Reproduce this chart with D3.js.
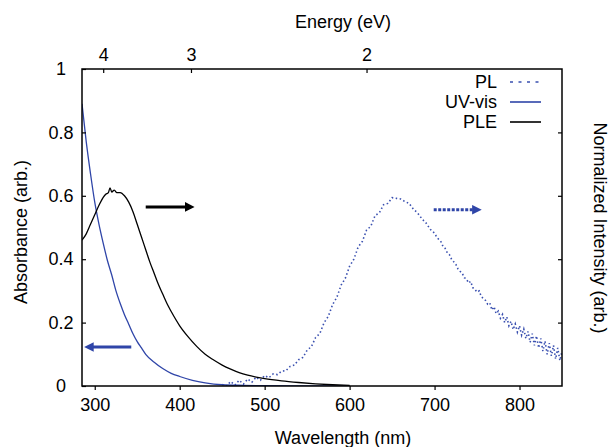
<!DOCTYPE html>
<html><head><meta charset="utf-8">
<script src="https://cdn.jsdelivr.net/npm/d3@7"></script>
<style>
body{margin:0;background:#fff;}
text{font-family:"Liberation Sans",Arial,Helvetica,sans-serif;fill:#000;}
</style></head>
<body><svg id="chart" width="609" height="447"></svg>
<script>
// ---- data ----
const xTicks = [300, 400, 500, 600, 700, 800];
const yTicks = [0, 0.2, 0.4, 0.6, 0.8, 1];
const yTickLabels = ["0", "0.2", "0.4", "0.6", "0.8", "1"];
const energyTicks = [4, 3, 2];

const uvWave = [285, 290, 295, 300, 305, 310, 315, 320, 325, 330, 335, 340, 345, 350, 355, 360, 370, 380, 390, 400, 415, 430, 450, 475, 500, 550, 600];
const uvVal  = [0.89, 0.77, 0.67, 0.58, 0.51, 0.45, 0.395, 0.35, 0.30, 0.26, 0.225, 0.195, 0.165, 0.14, 0.12, 0.10, 0.075, 0.055, 0.04, 0.03, 0.018, 0.01, 0.004, 0.002, 0.001, 0, 0];

const pleWave = [285, 290, 295, 300, 305, 310, 313, 316, 318, 320, 323, 326, 330, 335, 340, 345, 350, 355, 360, 365, 370, 375, 380, 385, 390, 400, 410, 420, 430, 440, 450, 460, 470, 480, 490, 500, 520, 540, 560, 580, 600];
const pleVal  = [0.46, 0.48, 0.51, 0.54, 0.57, 0.595, 0.605, 0.61, 0.625, 0.612, 0.618, 0.61, 0.61, 0.6, 0.58, 0.55, 0.51, 0.47, 0.43, 0.39, 0.355, 0.32, 0.29, 0.26, 0.235, 0.19, 0.155, 0.125, 0.1, 0.082, 0.066, 0.053, 0.042, 0.034, 0.028, 0.023, 0.016, 0.011, 0.007, 0.004, 0.002];

const plWave = [450, 455, 460, 465, 470, 475, 480, 485, 490, 495, 500, 505, 510, 515, 520, 525, 530, 535, 540, 545, 550, 555, 560, 565, 570, 575, 580, 585, 590, 595, 600, 605, 610, 615, 620, 625, 630, 635, 640, 645, 650, 655, 660, 665, 670, 675, 680, 685, 690, 695,
  700, 702.5, 705, 707.5, 710, 712.5, 715, 717.5, 720, 722.5, 725, 727.5, 730, 732.5, 735, 737.5, 740, 742.5, 745, 747.5, 750, 752.5, 755, 757.5, 760, 762.5, 765, 767.5, 770, 772.5, 775, 777.5, 780, 782.5, 785, 787.5, 790, 792.5, 795, 797.5, 800, 802.5, 805, 807.5, 810, 812.5, 815, 817.5, 820, 822.5, 825, 827.5, 830, 832.5, 835, 837.5, 840, 842.5, 845, 847.5, 850];
const plVal  = [0.005, 0.0, 0.014, 0.003, 0.018, 0.006, 0.022, 0.012, 0.028, 0.018, 0.033, 0.026, 0.038, 0.036, 0.047, 0.048, 0.062, 0.066, 0.083, 0.09, 0.113, 0.124, 0.153, 0.166, 0.2, 0.22, 0.257, 0.28, 0.318, 0.34, 0.378, 0.4, 0.438, 0.456, 0.492, 0.504, 0.538, 0.546, 0.572, 0.576, 0.594, 0.592, 0.59, 0.582, 0.576, 0.558, 0.546, 0.528, 0.514, 0.494,
  0.482, 0.47, 0.462, 0.455, 0.44, 0.434, 0.42, 0.414, 0.4, 0.392, 0.384, 0.37, 0.362, 0.356, 0.342, 0.338, 0.325, 0.33, 0.31, 0.305, 0.296, 0.3, 0.282, 0.276, 0.27, 0.258, 0.262, 0.24, 0.25, 0.228, 0.236, 0.214, 0.226, 0.2, 0.218, 0.19, 0.204, 0.178, 0.196, 0.17, 0.19, 0.16, 0.18, 0.15, 0.172, 0.138, 0.165, 0.128, 0.158, 0.12, 0.15, 0.11, 0.142, 0.1, 0.135, 0.095, 0.128, 0.085, 0.12, 0.08, 0.11];

const legendLabels = ["PL", "UV-vis", "PLE"];
const colors = {pl: "#3a50b0", uv: "#2f45a8", ple: "#000000"};

// arrows: [x1, x2, y] in data units
const arrowPLE = [360, 413, 0.565];
const arrowUV  = [343, 292, 0.123];
const arrowPL  = [699, 751, 0.556];

// ---- drawing ----
const svg = d3.select("#chart");
const L = 82, R = 562, T = 69, B = 386;
const x = d3.scaleLinear().domain([285, 850]).range([L, R]);
const y = d3.scaleLinear().domain([0, 1]).range([B, T]);

const defs = svg.append("defs");
function marker(id, color) {
  defs.append("marker").attr("id", id).attr("viewBox", "0 0 10 10")
    .attr("refX", 6).attr("refY", 5).attr("markerWidth", 3.2).attr("markerHeight", 3.2)
    .attr("orient", "auto").attr("markerUnits", "strokeWidth")
    .append("path").attr("d", "M0,0 L10,5 L0,10 Z").attr("fill", color);
}
marker("hBlack", "#000");
marker("hBlue", colors.uv);

const clip = defs.append("clipPath").attr("id", "clip");
clip.append("rect").attr("x", L).attr("y", T).attr("width", R - L).attr("height", B - T);

const g = svg.append("g").attr("clip-path", "url(#clip)");
const line = d3.line().x(d => x(d[0])).y(d => y(d[1]));

g.append("path").datum(plWave.map((w, i) => [w, plVal[i]]))
  .attr("d", line).attr("fill", "none").attr("stroke", colors.pl)
  .attr("stroke-width", 1.6).attr("stroke-dasharray", "1.5,2.5");
g.append("path").datum(uvWave.map((w, i) => [w, uvVal[i]]))
  .attr("d", d3.line().x(d => x(d[0])).y(d => y(d[1])).curve(d3.curveMonotoneX))
  .attr("fill", "none").attr("stroke", colors.uv).attr("stroke-width", 1.3);
g.append("path").datum(pleWave.map((w, i) => [w, pleVal[i]]))
  .attr("d", d3.line().x(d => x(d[0])).y(d => y(d[1])).curve(d3.curveMonotoneX))
  .attr("fill", "none").attr("stroke", colors.ple).attr("stroke-width", 1.3);

// arrows
function arrow(a, color, mk, dash) {
  svg.append("line").attr("x1", x(a[0])).attr("x2", x(a[1])).attr("y1", y(a[2])).attr("y2", y(a[2]))
    .attr("stroke", color).attr("stroke-width", 3).attr("marker-end", `url(#${mk})`)
    .attr("stroke-dasharray", dash || null);
}
arrow(arrowPLE, "#000", "hBlack");
arrow(arrowUV, colors.uv, "hBlue");
arrow(arrowPL, colors.uv, "hBlue", "3,1.5");

// frame
svg.append("rect").attr("x", L).attr("y", T).attr("width", R - L).attr("height", B - T)
  .attr("fill", "none").attr("stroke", "#000").attr("stroke-width", 1.5);

// bottom axis
const xAxis = d3.axisBottom(x).tickValues(xTicks).tickSize(4).tickPadding(8);
const gx = svg.append("g").attr("transform", `translate(0,${B})`).call(xAxis);
// top axis (energy)
const xTop = d3.axisTop(x).tickValues(energyTicks.map(e => 1239.84 / e)).tickFormat((d, i) => energyTicks[i]).tickSize(-4).tickPadding(8);
const gt = svg.append("g").attr("transform", `translate(0,${T})`).call(xTop);
// left axis
const yAxis = d3.axisLeft(y).tickValues(yTicks).tickFormat((d, i) => yTickLabels[i]).tickSize(-4).tickPadding(17);
const gy = svg.append("g").attr("transform", `translate(${L},0)`).call(yAxis);
// right axis
const yRight = d3.axisRight(y).tickValues(yTicks.slice(1, 5)).tickFormat("").tickSize(-4);
const gr = svg.append("g").attr("transform", `translate(${R},0)`).call(yRight);

[gx, gt, gy, gr].forEach(a => {
  a.select(".domain").remove();
  a.selectAll(".tick line").attr("stroke", "#000").attr("stroke-width", 1.2);
  a.selectAll("text").attr("font-size", 18).attr("font-family", "Liberation Sans, Arial, sans-serif");
});
gy.selectAll("text").attr("text-anchor", "middle").attr("x", -21);

// axis titles
svg.append("text").attr("x", 343).attr("y", 28).attr("text-anchor", "middle").attr("font-size", 18).text("Energy (eV)");
svg.append("text").attr("x", 343).attr("y", 444).attr("text-anchor", "middle").attr("font-size", 18).text("Wavelength (nm)");
svg.append("text").attr("transform", "translate(27,232) rotate(-90)").attr("text-anchor", "middle").attr("font-size", 18).text("Absorbance (arb.)");
svg.append("text").attr("transform", "translate(594,228) rotate(90)").attr("text-anchor", "middle").attr("font-size", 18).text("Normalized Intensity (arb.)");

// legend
const legY = [82, 102, 122];
const legStyle = [
  {c: colors.pl, dash: "3,5.5"},
  {c: colors.uv, dash: null},
  {c: "#000", dash: null}
];
legendLabels.forEach((lab, i) => {
  svg.append("text").attr("x", 497).attr("y", legY[i]).attr("dy", "0.35em").attr("text-anchor", "end").attr("font-size", 18).text(lab);
  svg.append("line").attr("x1", 510).attr("x2", 541).attr("y1", legY[i]).attr("y2", legY[i])
    .attr("stroke", legStyle[i].c).attr("stroke-width", 1.6).attr("stroke-dasharray", legStyle[i].dash);
});
</script></body></html>
